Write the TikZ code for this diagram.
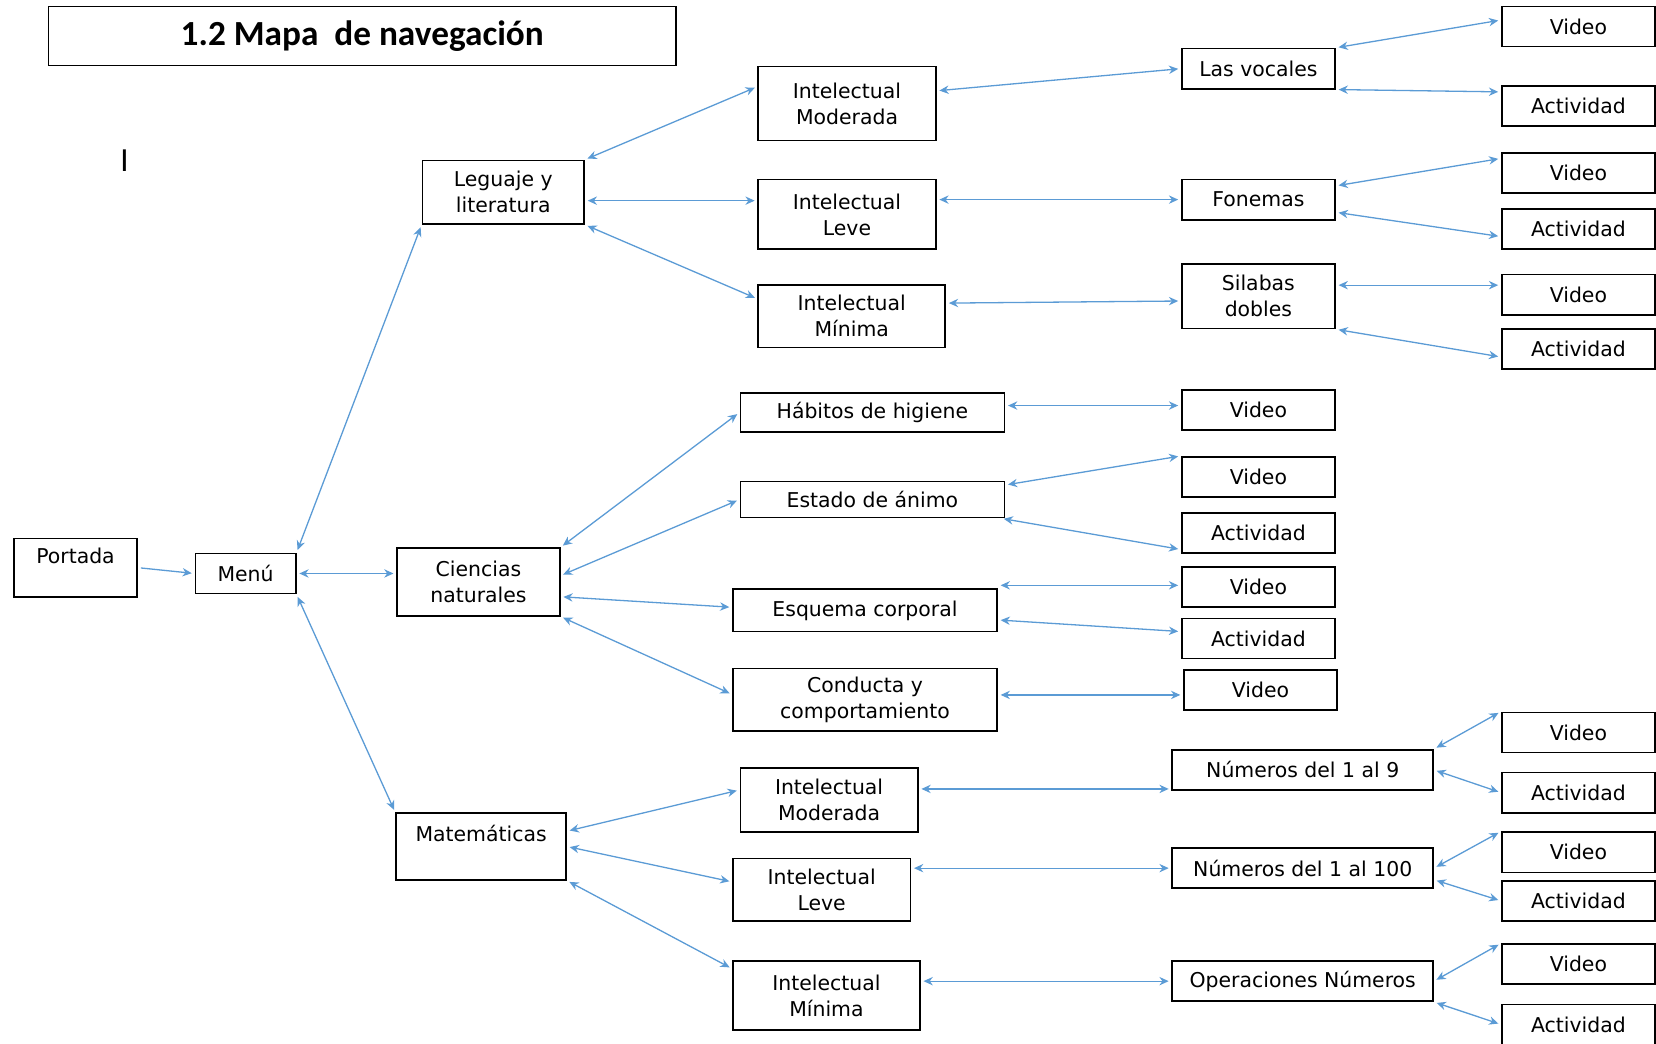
\documentclass[tikz,border=0pt]{standalone}
\usepackage{fontspec}
\setmainfont{DejaVu Sans}
\newfontfamily\titlefont{Carlito}
\usetikzlibrary{arrows.meta}
\definecolor{linkblue}{RGB}{91,155,213}
\tikzset{
  box/.style={draw, line width=0.9pt, inner sep=0pt, align=center,
    font=\fontsize{11}{14}\selectfont},
  link/.style={<->, draw=linkblue, line width=0.7pt, shorten <=1.5pt, shorten >=1.5pt},
  onelink/.style={->, draw=linkblue, line width=0.7pt, shorten <=1.5pt, shorten >=1.5pt}
}

\begin{document}
\begin{tikzpicture}[>={Stealth[length=5pt,width=4.5pt]}]
            \useasboundingbox (0, 0) rectangle (31.36, -19.77);
            \node[box, minimum width=11.88cm, minimum height=1.12cm, text depth=0.12cm, font=\titlefont\bfseries\fontsize{19}{21}\selectfont] (T) at (6.86, -0.68) {1.2 Mapa\ \ de navegación};
            \node[font=\fontsize{16}{16}\selectfont] (I) at (2.36, -3.04) {I};
            \node[box, minimum width=2.34cm, minimum height=1.10cm, text depth=0.45cm] (P) at (1.43, -10.75) {Portada};
            \node[box, minimum width=1.90cm, minimum height=0.76cm] (M) at (4.65, -10.86) {Menú};
            \node[box, minimum width=3.06cm, minimum height=1.20cm] (L) at (9.53, -3.64) {Leguaje y\\literatura};
            \node[box, minimum width=3.08cm, minimum height=1.28cm] (C) at (9.06, -11.02) {Ciencias\\naturales};
            \node[box, minimum width=3.22cm, minimum height=1.26cm, text depth=0.5cm] (X) at (9.11, -16.03) {Matemáticas};
            \node[box, minimum width=3.36cm, minimum height=1.40cm] (LM) at (16.04, -1.96) {Intelectual\\Moderada};
            \node[box, minimum width=3.36cm, minimum height=1.32cm] (LL) at (16.04, -4.06) {Intelectual\\Leve};
            \node[box, minimum width=3.54cm, minimum height=1.18cm] (LN) at (16.13, -5.99) {Intelectual\\Mínima};
            \node[box, minimum width=2.90cm, minimum height=0.76cm] (LV) at (23.83, -1.30) {Las vocales};
            \node[box, minimum width=2.90cm, minimum height=0.76cm] (LF) at (23.83, -3.78) {Fonemas};
            \node[box, minimum width=2.90cm, minimum height=1.22cm] (LS) at (23.83, -5.61) {Silabas\\dobles};
            \node[box, minimum width=2.90cm, minimum height=0.76cm] (V1) at (29.89, -0.50) {Video};
            \node[box, minimum width=2.90cm, minimum height=0.76cm] (A1) at (29.89, -2.01) {Actividad};
            \node[box, minimum width=2.90cm, minimum height=0.76cm] (V2) at (29.89, -3.28) {Video};
            \node[box, minimum width=2.90cm, minimum height=0.76cm] (A2) at (29.89, -4.34) {Actividad};
            \node[box, minimum width=2.90cm, minimum height=0.76cm] (V3) at (29.89, -5.58) {Video};
            \node[box, minimum width=2.90cm, minimum height=0.76cm] (A3) at (29.89, -6.61) {Actividad};
            \node[box, minimum width=5.00cm, minimum height=0.74cm] (CH) at (16.52, -7.81) {Hábitos de higiene};
            \node[box, minimum width=5.00cm, minimum height=0.68cm] (CE) at (16.52, -9.46) {Estado de ánimo};
            \node[box, minimum width=5.00cm, minimum height=0.80cm] (CQ) at (16.38, -11.56) {Esquema corporal};
            \node[box, minimum width=5.00cm, minimum height=1.18cm] (CC) at (16.38, -13.25) {Conducta y\\comportamiento};
            \node[box, minimum width=2.90cm, minimum height=0.76cm] (CHV) at (23.83, -7.76) {Video};
            \node[box, minimum width=2.90cm, minimum height=0.76cm] (CEV) at (23.83, -9.03) {Video};
            \node[box, minimum width=2.90cm, minimum height=0.76cm] (CEA) at (23.83, -10.09) {Actividad};
            \node[box, minimum width=2.90cm, minimum height=0.76cm] (CQV) at (23.83, -11.12) {Video};
            \node[box, minimum width=2.90cm, minimum height=0.76cm] (CQA) at (23.83, -12.09) {Actividad};
            \node[box, minimum width=2.90cm, minimum height=0.76cm] (CCV) at (23.87, -13.07) {Video};
            \node[box, minimum width=3.36cm, minimum height=1.22cm] (XM) at (15.70, -15.15) {Intelectual\\Moderada};
            \node[box, minimum width=3.36cm, minimum height=1.18cm] (XL) at (15.56, -16.85) {Intelectual\\Leve};
            \node[box, minimum width=3.54cm, minimum height=1.30cm] (XN) at (15.65, -18.85) {Intelectual\\Mínima};
            \node[box, minimum width=4.94cm, minimum height=0.76cm] (X9) at (24.67, -14.58) {Números del 1 al 9};
            \node[box, minimum width=4.94cm, minimum height=0.76cm] (X100) at (24.67, -16.44) {Números del 1 al 100};
            \node[box, minimum width=4.94cm, minimum height=0.76cm] (XO) at (24.67, -18.58) {Operaciones Números};
            \node[box, minimum width=2.90cm, minimum height=0.76cm] (XV1) at (29.89, -13.87) {Video};
            \node[box, minimum width=2.90cm, minimum height=0.76cm] (XA1) at (29.89, -15.01) {Actividad};
            \node[box, minimum width=2.90cm, minimum height=0.76cm] (XV2) at (29.89, -16.14) {Video};
            \node[box, minimum width=2.90cm, minimum height=0.76cm] (XA2) at (29.89, -17.06) {Actividad};
            \node[box, minimum width=2.90cm, minimum height=0.76cm] (XV3) at (29.89, -18.26) {Video};
            \node[box, minimum width=2.90cm, minimum height=0.76cm] (XA3) at (29.89, -19.40) {Actividad};
            \draw[onelink] (P.east) to (M.west);
            \draw[link] (M.north east) to (L.south west);
            \draw[link] (M.east) to (M.east -| C.west);
            \draw[link] (M.south east) to (X.north west);
            \draw[link] (L.north east) to ([yshift=0.32cm]LM.west);
            \draw[link] ([yshift=-0.16cm]L.east) to ([yshift=-0.16cm]L.east -| LL.west);
            \draw[link] (L.south east) to ([yshift=0.33cm]LN.west);
            \draw[link] ([yshift=0.24cm]LM.east) to (LV.west);
            \draw[link] (LF.west -| LL.east) to (LF.west);
            \draw[link] ([yshift=0.25cm]LN.east) to ([yshift=-0.09cm]LS.west);
            \draw[link] (LV.north east) to ([yshift=0.12cm]V1.west);
            \draw[link] (LV.south east) to ([yshift=0.27cm]A1.west);
            \draw[link] ([yshift=0.26cm]LF.east) to ([yshift=0.28cm]V2.west);
            \draw[link] ([yshift=-0.24cm]LF.east) to ([yshift=-0.14cm]A2.west);
            \draw[link] ([yshift=0.21cm]LS.east) to ([yshift=0.21cm]LS.east -| V3.west);
            \draw[link] (LS.south east) to ([yshift=-0.15cm]A3.west);
            \draw[link] (C.north east) to (CH.west);
            \draw[link] ([yshift=0.12cm]C.east) to (CE.west);
            \draw[link] ([yshift=-0.28cm]C.east) to ([yshift=0.06cm]CQ.west);
            \draw[link] (C.south east) to ([yshift=0.1cm]CC.west);
            \draw[link] ([yshift=0.13cm]CH.east) to ([yshift=0.13cm]CH.east -| CHV.west);
            \draw[link] ([yshift=-0.08cm]CE.north east) to (CEV.north west);
            \draw[link] ([xshift=-0.08cm]CE.south east) to ([yshift=0.08cm]CEA.south west);
            \draw[link] ([yshift=0.06cm]CQ.north east) to ([yshift=0.06cm]CQ.north east -| CQV.west);
            \draw[link] ([yshift=-0.18cm]CQ.east) to ([yshift=0.13cm]CQA.west);
            \draw[link] ([yshift=0.09cm]CC.east) to ([yshift=0.09cm]CC.east -| CCV.west);
            \draw[link] ([yshift=0.29cm]X.east) to ([yshift=0.19cm]XM.west);
            \draw[link] (X.east) to ([yshift=0.15cm]XL.west);
            \draw[link] (X.south east) to ([yshift=-0.16cm]XN.north west);
            \draw[link] ([yshift=0.21cm]XM.east) to ([yshift=0.21cm]XM.east -| X9.west);
            \draw[link] (X100.west -| XL.east) to (X100.west);
            \draw[link] (XO.west -| XN.east) to (XO.west);
            \draw[link] (X9.north east) to (XV1.north west);
            \draw[link] (X9.east) to (XA1.west);
            \draw[link] (X100.east) to (XV2.north west);
            \draw[link] ([yshift=-0.22cm]X100.east) to (XA2.west);
            \draw[link] (XO.east) to (XV3.north west);
            \draw[link] (XO.south east) to (XA3.west);
        \end{tikzpicture}
\end{document}
